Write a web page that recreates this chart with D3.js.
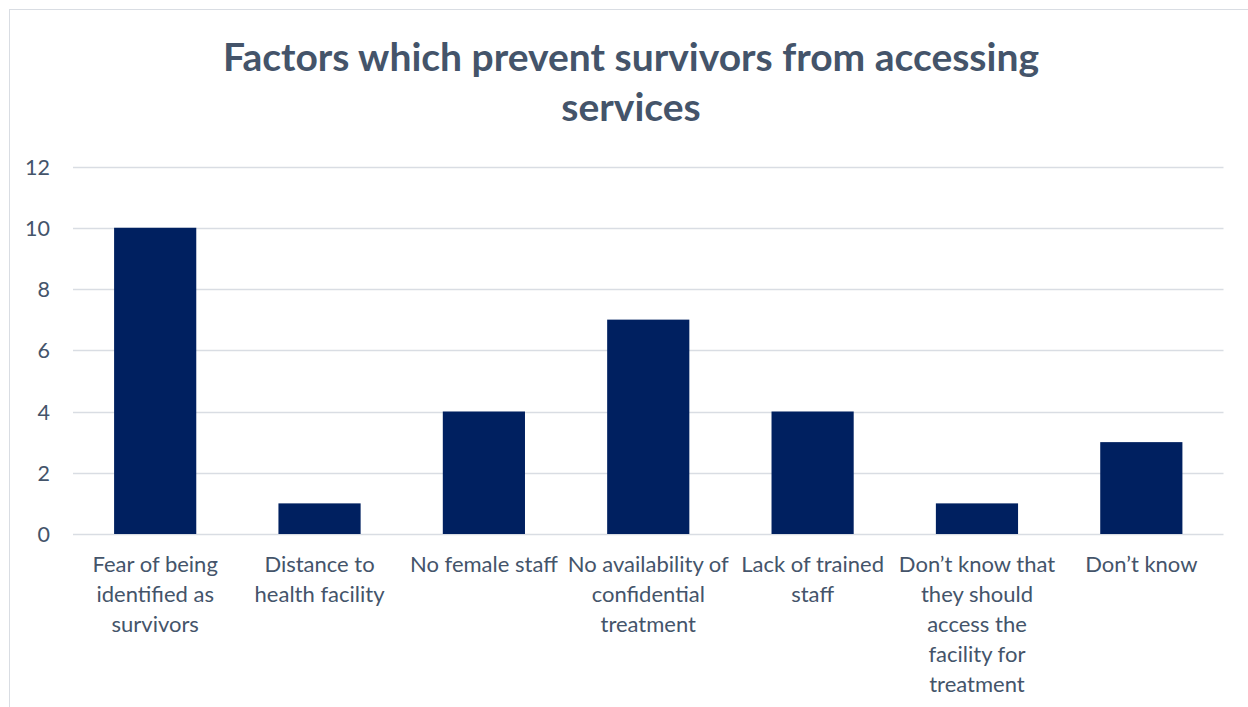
<!DOCTYPE html>
<html><head><meta charset="utf-8">
<script src="https://cdn.jsdelivr.net/npm/d3@7"></script>
<style>body{margin:0;background:#fff}svg{display:block}text{font-family:Lato,"Open Sans",sans-serif}</style>
</head><body><svg id="c" width="1248" height="707"></svg>
<script>
const categories = ["Fear of being identified as survivors","Distance to health facility","No female staff","No availability of confidential treatment","Lack of trained staff","Don\u2019t know that they should access the facility for treatment","Don\u2019t know"];
const values = [10,1,4,7,4,1,3];
const yTicks = [0,2,4,6,8,10,12];
const titleLines = ["Factors which prevent survivors from accessing","services"];

const svg = d3.select("#c");
const textColor = "#44546A";
svg.append("rect").attr("x",9.5).attr("y",9.5).attr("width",1248).attr("height",707).attr("fill","#fff").attr("stroke","#D9DDE3");

const x = d3.scaleBand().domain(categories).range([73,1223.5]).paddingInner(0.5).paddingOuter(0.25);
const y = d3.scaleLinear().domain([0,12]).range([534,166.5]);

// gridlines
svg.append("g").selectAll("line").data(yTicks).join("line")
  .attr("x1",73).attr("x2",1223.5).attr("y1",d=>Math.round(y(d))+0.5).attr("y2",d=>Math.round(y(d))+0.5)
  .attr("stroke","#D9DDE3").attr("stroke-width",1.5);

// y axis
const ya = svg.append("g").attr("transform","translate(50,0)").call(d3.axisLeft(y).tickValues(yTicks).tickSize(0).tickPadding(0));
ya.select(".domain").remove();
ya.selectAll("text").attr("fill",textColor).attr("font-size",21.5).attr("font-family","Lato").attr("dy","0.35em");

// bars
svg.append("g").selectAll("rect").data(values).join("rect")
  .attr("x",(d,i)=>x(categories[i])).attr("width",x.bandwidth())
  .attr("y",d=>y(d)).attr("height",d=>y(0)-y(d)).attr("fill","#002060");

// x labels with wrapping
const xa = svg.append("g").attr("transform","translate(0,534)").call(d3.axisBottom(x).tickSize(0).tickPadding(0));
xa.select(".domain").remove();
const maxW = 165;
xa.selectAll("text").attr("fill",textColor).attr("font-size",22).attr("font-family","Lato").each(function(d){
  const t = d3.select(this); t.text(null).attr("y",0).attr("dy",null);
  const words = d.split(" "); let line=[]; let lines=[];
  const tmp = t.append("tspan");
  words.forEach(w=>{ line.push(w); tmp.text(line.join(" ")); if(tmp.node().getComputedTextLength()>maxW && line.length>1){ line.pop(); lines.push(line.join(" ")); line=[w]; } });
  lines.push(line.join(" ")); tmp.remove();
  lines.forEach((l,i)=>t.append("tspan").attr("x",0).attr("y",38+i*30).text(l));
});

// title
svg.append("g").selectAll("text").data(titleLines).join("text")
  .attr("x",631).attr("y",(d,i)=>71+i*50).attr("text-anchor","middle")
  .attr("font-size",39).attr("font-weight","bold").attr("fill",textColor).text(d=>d);
</script></body></html>
